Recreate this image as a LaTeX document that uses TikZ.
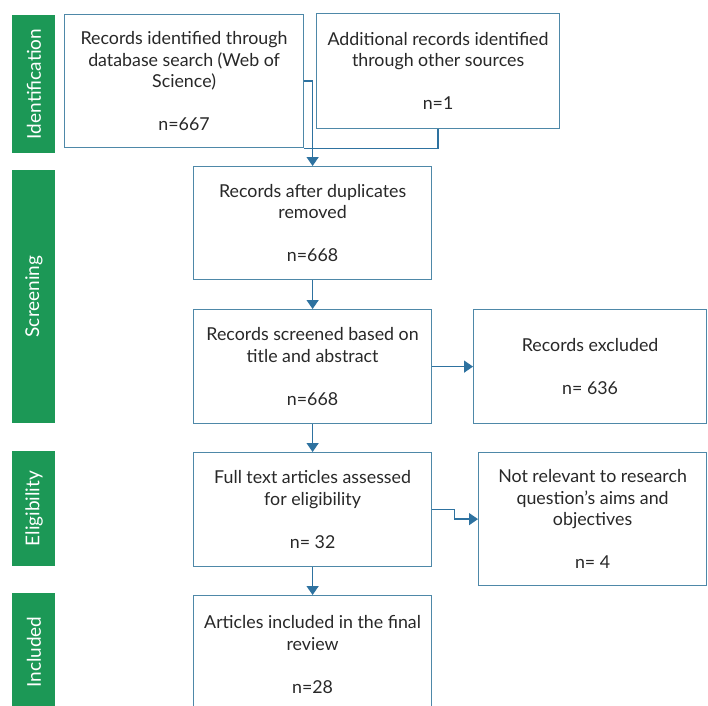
\documentclass[tikz,border=0pt]{standalone}
\usepackage{fontspec}
\setmainfont{Lato}
\usetikzlibrary{arrows.meta,calc}

\definecolor{stagegreen}{RGB}{28,152,86}
\definecolor{boxblue}{RGB}{78,136,168}
\definecolor{linkblue}{RGB}{46,114,160}
\definecolor{textgray}{RGB}{40,40,40}

\begin{document}
\begin{tikzpicture}[x=1pt,y=-1pt,
  flowbox/.style={draw=boxblue, line width=1.2pt, fill=white, anchor=north west,
    inner sep=0pt, align=center, text=textgray,
    font=\fontsize{17.8}{21.5}\selectfont},
  stagelabel/.style={rotate=90, text=white, inner sep=0pt,
    font=\fontsize{19}{22}\selectfont},
  link/.style={draw=linkblue, line width=1.4pt},
  arrowlink/.style={link, -{Triangle[width=12pt,length=9pt]}}]

% Page
\clip (0,0) rectangle (708,705);
\fill[white] (0,0) rectangle (708,705);

% Stage bars
\foreach \lbl/\ya/\yb in {Identification/15/153, Screening/170/423,
    Eligibility/451/566, Included/593/711} {
\fill[stagegreen] (12,\ya) rectangle (55,\yb);
\node[stagelabel] (\lbl) at (34,{(\ya+\yb)/2}) {\lbl};
}

% Boxes
\node[flowbox, minimum width=239pt, minimum height=133pt] (search) at (64,14)
  {Records identified through\\database search (Web of\\Science)\\[21.5pt]n=667};
\node[flowbox, minimum width=243pt, minimum height=115pt] (other) at (316,13)
  {Additional records identified\\through other sources\\[21.5pt]n=1};
\node[flowbox, minimum width=238pt, minimum height=113pt] (dedup) at (193,166)
  {Records after duplicates\\removed\\[21.5pt]n=668};
\node[flowbox, minimum width=238pt, minimum height=114pt] (screened) at (193,309)
  {Records screened based on\\title and abstract\\[21.5pt]n=668};
\node[flowbox, minimum width=233pt, minimum height=114pt] (excluded) at (473,309)
  {Records excluded\\[21.5pt]n= 636};
\node[flowbox, minimum width=238pt, minimum height=114pt] (fulltext) at (193,452)
  {Full text articles assessed\\for eligibility\\[21.5pt]n= 32};
\node[flowbox, minimum width=228pt, minimum height=133pt] (notrel) at (478,452)
  {Not relevant to research\\question's aims and\\objectives\\[21.5pt]n= 4};
\node[flowbox, minimum width=238pt, minimum height=118pt] (final) at (193,595)
  {Articles included in the final\\review\\[21.5pt]n=28};

% Connectors
\draw[arrowlink] (search.east) -| (dedup.north);
\draw[link] (other.south) |- (search.south east);
\draw[arrowlink] (dedup.south) -- (screened.north);
\draw[arrowlink] (screened.east) -- (excluded.west);
\draw[arrowlink] (screened.south) -- (fulltext.north);
\draw[arrowlink] (fulltext.east) -- ++(22,0) |- (notrel.west);
\draw[arrowlink] (fulltext.south) -- (final.north);

\end{tikzpicture}
\end{document}
